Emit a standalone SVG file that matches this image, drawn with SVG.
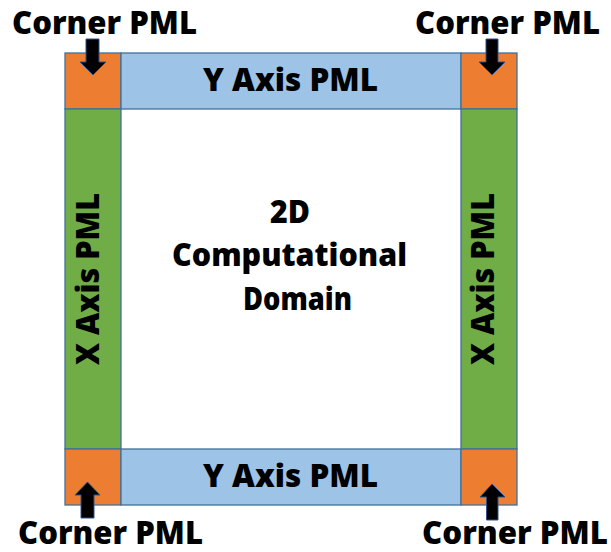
<svg xmlns="http://www.w3.org/2000/svg" width="611" height="552" viewBox="0 0 611 552">
<style>
  .band{stroke:#41719C;stroke-width:1.3}
  .corner{fill:#ED7D31}
  .ypml{fill:#9DC3E6}
  .xpml{fill:#70AD47}
  .t{font-family:"Open Sans","Noto Sans","Liberation Sans",sans-serif;font-weight:800;font-size:32px;fill:#000}
  .arrow{fill:#000;stroke:#2F528F;stroke-width:1}
</style>
<rect width="611" height="552" fill="#fff"/>
<g id="corner-tl"><rect class="band corner" x="65" y="53" width="56" height="56"/></g>
<g id="ypml-top"><rect class="band ypml" x="121" y="53" width="340" height="56"/><text class="t" x="203" y="91" textLength="175" lengthAdjust="spacingAndGlyphs">Y Axis PML</text></g>
<g id="corner-tr"><rect class="band corner" x="461" y="53" width="56" height="56"/></g>
<g id="xpml-left"><rect class="band xpml" x="65" y="109" width="56" height="340"/><text class="t" transform="translate(99,279) rotate(-90)" x="0" y="0" text-anchor="middle" textLength="172" lengthAdjust="spacingAndGlyphs">X Axis PML</text></g>
<g id="xpml-right"><rect class="band xpml" x="461" y="109" width="56" height="340"/><text class="t" transform="translate(494,279) rotate(-90)" x="0" y="0" text-anchor="middle" textLength="172" lengthAdjust="spacingAndGlyphs">X Axis PML</text></g>
<g id="corner-bl"><rect class="band corner" x="65" y="449" width="56" height="56"/></g>
<g id="ypml-bottom"><rect class="band ypml" x="121" y="449" width="340" height="56"/><text class="t" x="203" y="487" textLength="175" lengthAdjust="spacingAndGlyphs">Y Axis PML</text></g>
<g id="corner-br"><rect class="band corner" x="461" y="449" width="56" height="56"/></g>
<g id="domain">
  <text class="t" x="270" y="223" textLength="40" lengthAdjust="spacingAndGlyphs">2D</text>
  <text class="t" x="172" y="266" textLength="235" lengthAdjust="spacingAndGlyphs">Computational</text>
  <text class="t" x="243" y="310" textLength="109" lengthAdjust="spacingAndGlyphs">Domain</text>
</g>
<g id="label-tl"><text class="t" x="12" y="34" textLength="185" lengthAdjust="spacingAndGlyphs">Corner PML</text></g>
<g id="label-tr"><text class="t" x="415" y="34" textLength="185" lengthAdjust="spacingAndGlyphs">Corner PML</text></g>
<g id="label-bl"><text class="t" x="18" y="544" textLength="185" lengthAdjust="spacingAndGlyphs">Corner PML</text></g>
<g id="label-br"><text class="t" x="422" y="544" textLength="186" lengthAdjust="spacingAndGlyphs">Corner PML</text></g>
<g id="connectors">
  <polygon class="arrow" points="86,39 99,39 99,62 106,62 93,75 80,62 86,62"/>
  <polygon class="arrow" points="486,39 498,39 498,62 505,62 492,75 479,62 486,62"/>
  <polygon class="arrow" points="81,518 94,518 94,495 100,495 87.5,482 75,495 81,495"/>
  <polygon class="arrow" points="486.5,520 498,520 498,497 505,497 492,484 480,497 486.5,497"/>
</g>
</svg>
